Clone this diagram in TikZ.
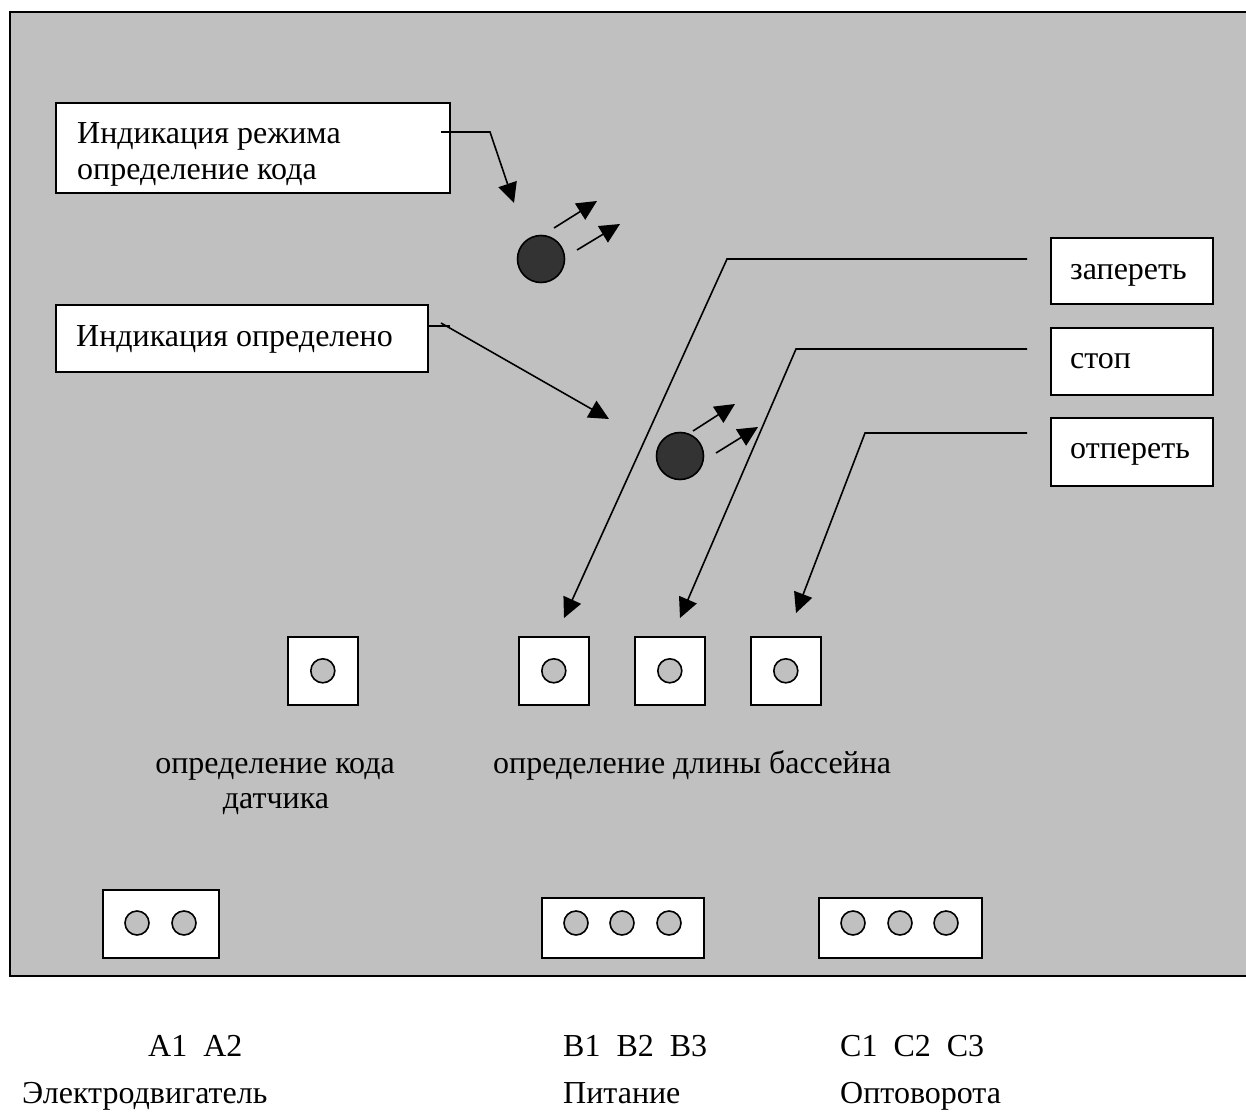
\documentclass[tikz,border=0pt]{standalone}
\usepackage{fontspec}
\setmainfont{Liberation Serif}
\usetikzlibrary{arrows.meta}
\definecolor{panelgray}{HTML}{C0C0C0}
\definecolor{ledgray}{HTML}{333333}
\begin{document}
\begin{tikzpicture}[x=1pt,y=-1pt,
  box/.style={draw, fill=white, line width=1.6pt, anchor=north west, inner sep=0pt},
  txt/.style={anchor=base west, inner sep=0pt, font=\fontsize{32}{37}\selectfont},
  ctxt/.style={anchor=base, inner sep=0pt, font=\fontsize{32}{37}\selectfont},
  arr/.style={line width=1.6pt, -{Triangle[length=20pt,width=19pt]}},
  led/.style={circle, draw, fill=ledgray, line width=1.6pt, minimum size=47pt, inner sep=0pt},
  hole/.style={circle, draw, fill=panelgray, line width=1.6pt, minimum size=24pt, inner sep=0pt},
  btn/.style={box, minimum width=70pt, minimum height=68pt},
]
\useasboundingbox (0,0) rectangle (1246,1115);
\fill[white] (0,0) rectangle (1246,1115);
\draw[fill=panelgray, line width=2pt] (10,12) rectangle (1262,976);

% indication boxes
\node[box, minimum width=394pt, minimum height=90pt] (ind1) at (55,102) {};
\node[txt] (ind1a) at (77,144) {Индикация режима};
\node[txt] (ind1b) at (77,180) {определение кода};
\node[box, minimum width=372pt, minimum height=67pt] (ind2) at (55,304) {};
\node[txt] (ind2a) at (76,346) {Индикация определено};

% right boxes
\node[box, minimum width=162pt, minimum height=66pt] (zap) at (1050,237) {};
\node[txt] (zapt) at (1070,279) {запереть};
\node[box, minimum width=162pt, minimum height=67pt] (stop) at (1050,327) {};
\node[txt] (stopt) at (1070,368) {стоп};
\node[box, minimum width=162pt, minimum height=68pt] (otp) at (1050,417) {};
\node[txt] (otpt) at (1070,458) {отпереть};

% LEDs
\node[led] (led1) at (541,259) {};
\node[led] (led2) at (680,456) {};
\coordinate (l1a0) at (554,228); \coordinate (l1a1) at (597,201);
\coordinate (l1b0) at (577,250); \coordinate (l1b1) at (620,224);
\coordinate (l2a0) at (693,431); \coordinate (l2a1) at (735,404);
\coordinate (l2b0) at (716,453); \coordinate (l2b1) at (758,427);
\draw[arr] (l1a0) -- (l1a1);
\draw[arr] (l1b0) -- (l1b1);
\draw[arr] (l2a0) -- (l2a1);
\draw[arr] (l2b0) -- (l2b1);

% buttons
\node[btn] (bk) at (287,636) {};
\node[btn] (bz) at (518,636) {};
\node[btn] (bs) at (634,636) {};
\node[btn] (bo) at (750,636) {};
\node[hole] (hk) at (bk.center) {};
\node[hole] (hz) at (bz.center) {};
\node[hole] (hs) at (bs.center) {};
\node[hole] (ho) at (bo.center) {};

% connectors from indication boxes
\coordinate (c1s) at (441,132); \coordinate (c1k) at (490,132); \coordinate (c1e) at (514,203);
\draw[arr] (c1s) -- (c1k) -- (c1e);
\coordinate (c2k) at (450,326); \coordinate (c2s) at (441,323); \coordinate (c2e) at (609,419);
\draw[line width=1.6pt] (ind2.east |- c2k) -- (c2k);
\draw[arr] (c2s) -- (c2e);

% connectors from right boxes
\coordinate (r1s) at (1027,259); \coordinate (r1k) at (727,259); \coordinate (r1e) at (564,618);
\coordinate (r2s) at (1027,349); \coordinate (r2k) at (796,349); \coordinate (r2e) at (680,618);
\coordinate (r3s) at (1027,433); \coordinate (r3k) at (865,433); \coordinate (r3e) at (796,613);
\draw[arr] (r1s) -- (r1k) -- (r1e);
\draw[arr] (r2s) -- (r2k) -- (r2e);
\draw[arr] (r3s) -- (r3k) -- (r3e);

% labels under buttons
\node[ctxt] (lk1) at (275,773) {определение кода};
\node[ctxt] (lk2) at (276,808) {датчика};
\node[txt] (ld) at (493,773) {определение длины бассейна};

% connectors at bottom
\node[box, minimum width=116pt, minimum height=68pt] (ca) at (102,889) {};
\node[hole] (a1) at (137,923) {};
\node[hole] (a2) at (184,923) {};
\node[box, minimum width=162pt, minimum height=60pt] (cb) at (541,897) {};
\node[hole] (b1) at (576,923) {};
\node[hole] (b2) at (622,923) {};
\node[hole] (b3) at (669,923) {};
\node[box, minimum width=163pt, minimum height=60pt] (cc) at (818,897) {};
\node[hole] (c1) at (853,923) {};
\node[hole] (c2) at (900,923) {};
\node[hole] (c3) at (946,923) {};

% outside labels
\node[txt] (la) at (148,1056) {A1\ \ A2};
\node[txt] (lb) at (563,1056) {B1\ \ B2\ \ B3};
\node[txt] (lc) at (840,1056) {C1\ \ C2\ \ C3};
\node[txt] (na) at (22,1103) {Электродвигатель};
\node[txt] (nb) at (563,1103) {Питание};
\node[txt] (nc) at (840,1103) {Оптоворота};
\end{tikzpicture}
\end{document}
